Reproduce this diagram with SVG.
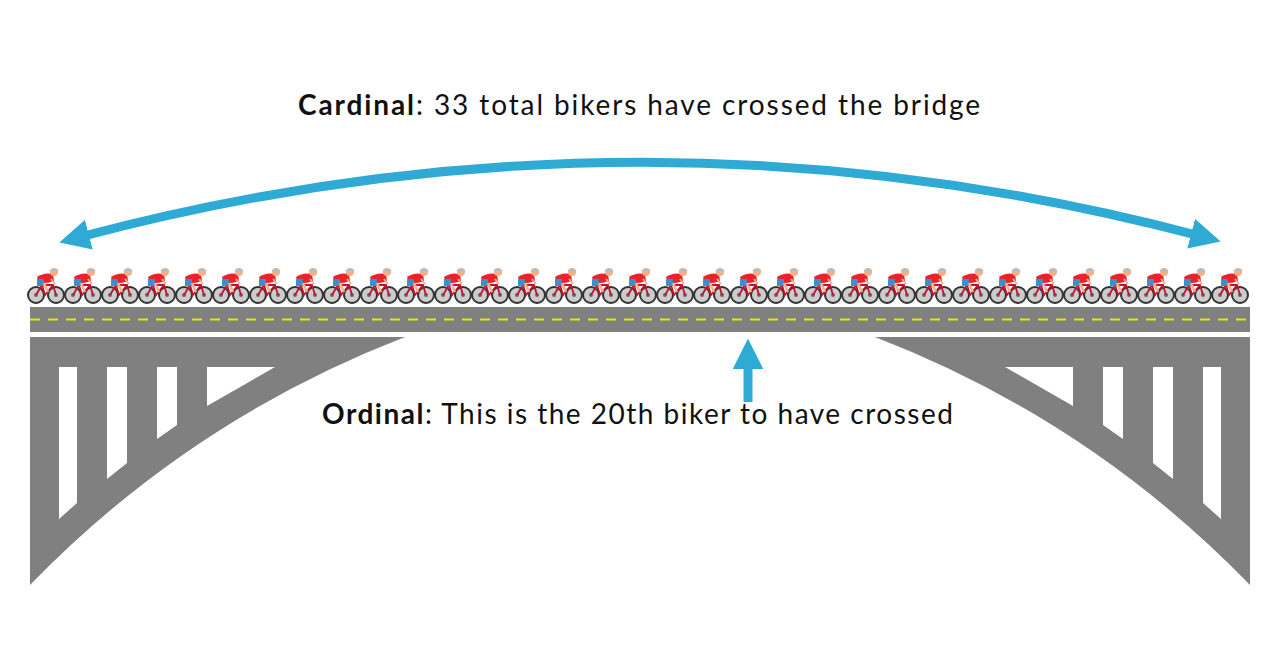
<svg xmlns="http://www.w3.org/2000/svg" xmlns:xlink="http://www.w3.org/1999/xlink" width="1280" height="665" viewBox="0 0 1280 665">
<style>
.t{font-family:Lato,"Open Sans",sans-serif;font-size:28px;fill:#111;letter-spacing:1.9px}
.o{letter-spacing:1.5px}
.b{font-weight:bold}
.g{fill:#808080}
.ar{fill:none;stroke:#2eaad4;stroke-width:9}
</style>
<defs>
<marker id="ah" viewBox="0 0 10 10" refX="3" refY="5" markerWidth="3.4" markerHeight="3.4" orient="auto-start-reverse" markerUnits="strokeWidth">
<path d="M0,0 L10,5 L0,10 Z" fill="#2eaad4"/>
</marker>
<g id="bk">
<circle cx="8" cy="25" r="8" fill="#ccc" stroke="#333" stroke-width="2"/>
<circle cx="28" cy="25" r="8" fill="#ccc" stroke="#333" stroke-width="2"/>
<circle cx="8" cy="25" r="2" fill="#666"/>
<circle cx="28" cy="25" r="2" fill="#666"/>
<path d="M8,25 L14,15 L25,15 L28,25 M14,15 L17,25 L25,15" fill="none" stroke="#c8102e" stroke-width="1.8"/>
<path d="M9,7 Q16,2 25,4 L26,11 Q18,14 11,13 Z" fill="#e8232a"/>
<rect x="9" y="9" width="7" height="7" fill="#3a8fd0"/>
<path d="M16,13 L20,22" stroke="#f1b08a" stroke-width="2.5"/>
<path d="M23,9 L27,14" stroke="#f1b08a" stroke-width="2"/>
<circle cx="26" cy="2" r="4" fill="#f1b08a"/>
<path d="M21,1 Q26,-4 31,1 Z" fill="#bbb"/>
</g>
</defs>
<text class="t" x="640" y="115" text-anchor="middle"><tspan class="b">Cardinal</tspan>: 33 total bikers have crossed the bridge</text>
<g id="connectors">
<path class="ar" d="M80,237 Q640,88 1200,236" marker-end="url(#ah)" marker-start="url(#ah)"/>
<path class="ar" d="M748,402 L748,360" marker-end="url(#ah)"/>
</g>
<g id="bridge">
<rect class="g" x="30" y="307" width="1220" height="25"/>
<line x1="30" y1="319.5" x2="1250" y2="319.5" stroke="#e6e600" stroke-width="2" stroke-dasharray="10,8"/>
<g id="leftAbut">
<path class="g" fill-rule="evenodd" d="M30,337 L405,337 Q190,420 30,585 Z M59,367 L77,367 L77,503 L59,519 Z M107,367 L127,367 L127,463 L107,479 Z M157,367 L177,367 L177,425 L157,439 Z M207,367 L275,367 L207,406 Z"/>
</g>
<g id="rightAbut" transform="translate(1280,0) scale(-1,1)">
<path class="g" fill-rule="evenodd" d="M30,337 L405,337 Q190,420 30,585 Z M59,367 L77,367 L77,503 L59,519 Z M107,367 L127,367 L127,463 L107,479 Z M157,367 L177,367 L177,425 L157,439 Z M207,367 L275,367 L207,406 Z"/>
</g>
</g>
<g id="bikers">
<use xlink:href="#bk" x="28" y="270"/><use xlink:href="#bk" x="65" y="270"/><use xlink:href="#bk" x="102" y="270"/><use xlink:href="#bk" x="139" y="270"/><use xlink:href="#bk" x="176" y="270"/><use xlink:href="#bk" x="213" y="270"/><use xlink:href="#bk" x="250" y="270"/><use xlink:href="#bk" x="287" y="270"/><use xlink:href="#bk" x="324" y="270"/><use xlink:href="#bk" x="361" y="270"/><use xlink:href="#bk" x="398" y="270"/><use xlink:href="#bk" x="435" y="270"/><use xlink:href="#bk" x="472" y="270"/><use xlink:href="#bk" x="509" y="270"/><use xlink:href="#bk" x="546" y="270"/><use xlink:href="#bk" x="583" y="270"/><use xlink:href="#bk" x="620" y="270"/><use xlink:href="#bk" x="657" y="270"/><use xlink:href="#bk" x="694" y="270"/><use xlink:href="#bk" x="731" y="270"/><use xlink:href="#bk" x="768" y="270"/><use xlink:href="#bk" x="805" y="270"/><use xlink:href="#bk" x="842" y="270"/><use xlink:href="#bk" x="879" y="270"/><use xlink:href="#bk" x="916" y="270"/><use xlink:href="#bk" x="953" y="270"/><use xlink:href="#bk" x="990" y="270"/><use xlink:href="#bk" x="1027" y="270"/><use xlink:href="#bk" x="1064" y="270"/><use xlink:href="#bk" x="1101" y="270"/><use xlink:href="#bk" x="1138" y="270"/><use xlink:href="#bk" x="1175" y="270"/><use xlink:href="#bk" x="1212" y="270"/>
</g>
<text class="t o" x="322" y="424"><tspan class="b">Ordinal</tspan>: This is the 20th biker to have crossed</text>
</svg>
